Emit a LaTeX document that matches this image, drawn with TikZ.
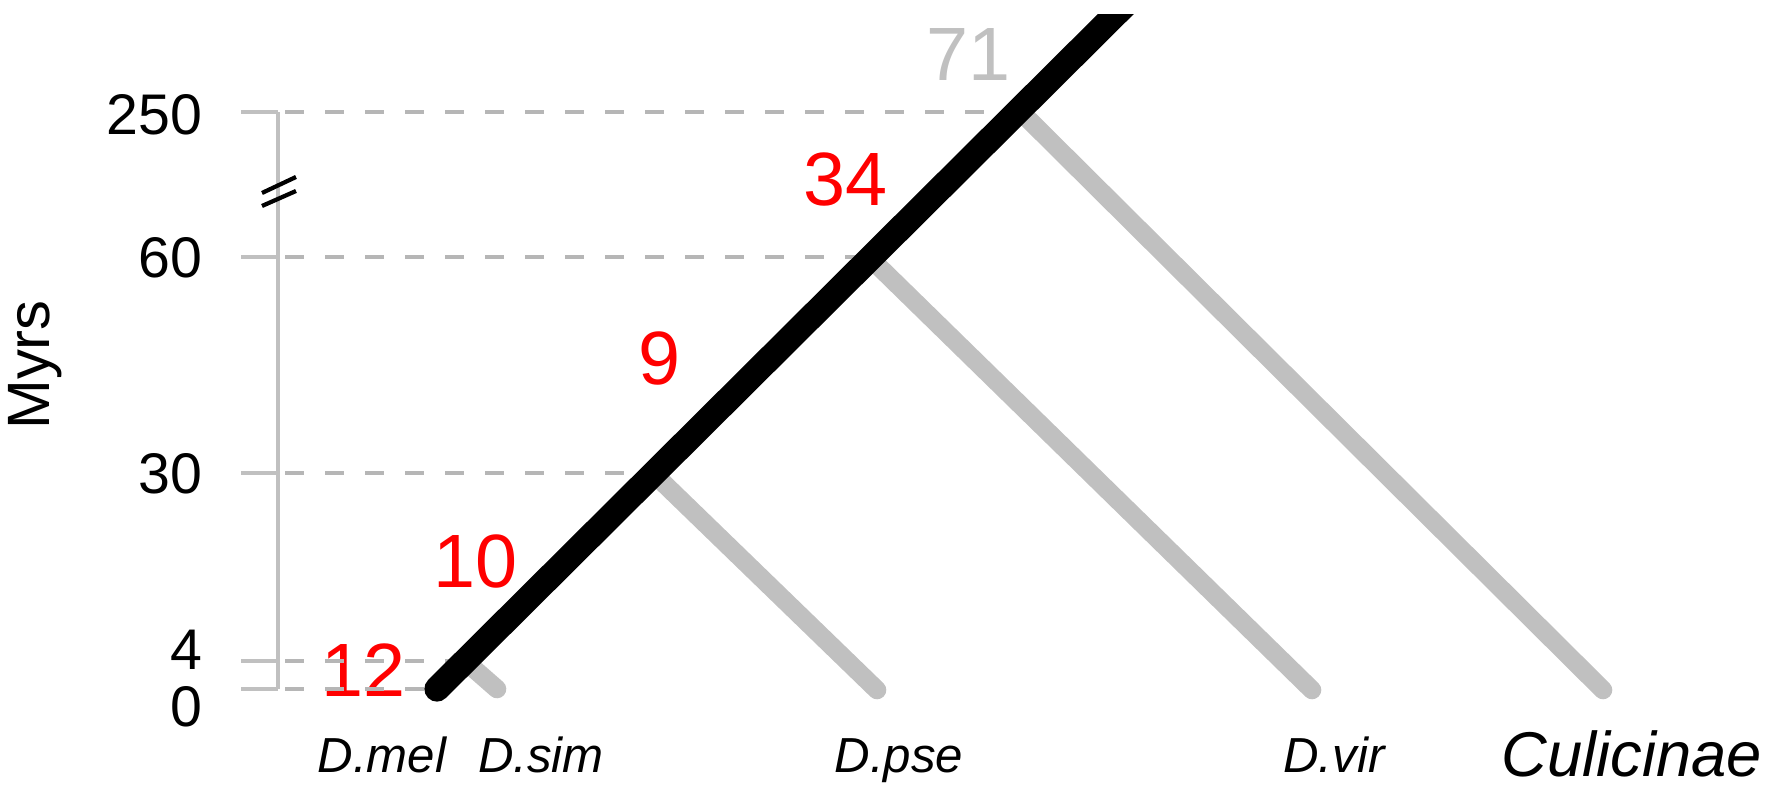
\documentclass[tikz,border=0pt]{standalone}
\usepackage{fontspec}
\setmainfont{Liberation Sans}
\definecolor{branchgray}{RGB}{192,192,192}
\definecolor{guidegray}{RGB}{182,182,182}
\definecolor{numred}{RGB}{255,0,0}

\begin{document}
\begin{tikzpicture}[
    tick/.style={branchgray, line width=1.1pt},
    guide/.style={guidegray, line width=1.1pt, dash pattern=on 0.19cm off 0.21cm},
    branch/.style={branchgray, line width=5.3pt, line cap=round},
    lineage/.style={black, line width=7.2pt, line cap=round},
    ylab/.style={anchor=east, inner sep=0pt, font=\fontsize{16.3}{19}\selectfont},
    numlab/.style={numred, inner sep=0pt, font=\fontsize{21.5}{25}\selectfont},
    species/.style={anchor=base, inner sep=0pt, font=\itshape\fontsize{14}{17}\selectfont}]
    \useasboundingbox (0,0) rectangle (17.77,8);
    % Axis
    \draw[tick] (2.78,1.11) -- (2.78,6.88);
    \foreach \lvl/\yy in {250/6.88, 60/5.43, 30/3.27, 4/1.39, 0/1.11} {
        \coordinate (t\lvl) at (2.78,\yy);
        \draw[tick] (2.41,\yy) -- (t\lvl);
    }
    \node[ylab] (l250) at (2.03,6.85) {250};
    \node[ylab] (l60) at (2.03,5.42) {60};
    \node[ylab] (l30) at (2.03,3.26) {30};
    \node[ylab] (l4) at (2.03,1.50) {4};
    \node[ylab] (l0) at (2.03,0.93) {0};
    \node[rotate=90, inner sep=0pt, font=\fontsize{17}{20}\selectfont] (myrs) at (0.35,4.35) {Myrs};
    % Axis break
    \draw[black, line width=1.2pt] (2.62,6.07) -- (2.96,6.23);
    \draw[black, line width=1.2pt] (2.62,5.94) -- (2.96,6.09);
    % Split points on the lineage
    \coordinate (n0) at (4.37,1.11);
    \coordinate (n4) at (4.65,1.39);
    \coordinate (n30) at (6.53,3.27);
    \coordinate (n60) at (8.69,5.43);
    \coordinate (n250) at (10.21,6.88);
    \coordinate (top) at (11.40,8.10);
    % Leaves
    \coordinate (sim) at (4.97,1.11);
    \coordinate (pse) at (8.77,1.10);
    \coordinate (vir) at (13.12,1.10);
    \coordinate (cul) at (16.03,1.10);
    % Gene counts
    \node[numlab] (c12) at (3.64,1.30) {12};
    \node[numlab] (c10) at (4.76,2.39) {10};
    \node[numlab] (c9) at (6.60,4.41) {9};
    \node[numlab] (c34) at (8.46,6.20) {34};
    \node[numlab, branchgray] (c71) at (9.69,7.455) {71};
    % Dashed guides
    \foreach \lvl in {250,60,30,4,0}
        \draw[guide] ([xshift=2pt]t\lvl) -- (n\lvl);
    % Side branches
    \draw[branch] (n4) -- (sim);
    \draw[branch] (n30) -- (pse);
    \draw[branch] (n60) -- (vir);
    \draw[branch] (n250) -- (cul);
    % Main lineage, cut flat at the top
    \begin{scope}
        \clip (0,0) rectangle (17.77,7.85);
        \draw[lineage] (n0) -- (top);
    \end{scope}
    % Species
    \node[species] (mel) at (3.82,0.27) {D.mel};
    \node[species] (simlab) at (5.41,0.27) {D.sim};
    \node[species] (pselab) at (8.99,0.27) {D.pse};
    \node[species] (virlab) at (13.34,0.27) {D.vir};
    \node[species, font=\itshape\fontsize{18}{21}\selectfont] (cullab) at (16.32,0.23) {Culicinae};
\end{tikzpicture}
\end{document}
